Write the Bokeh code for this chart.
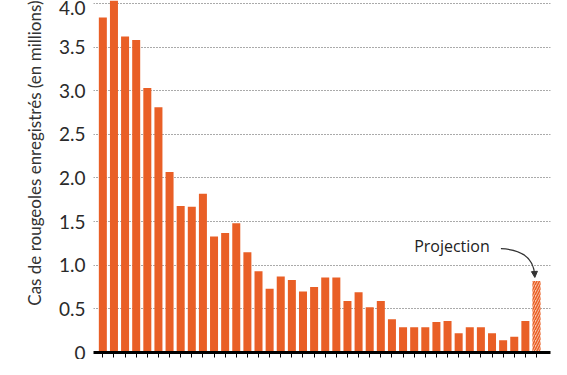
from bokeh.plotting import figure
from bokeh.models import (Range1d, FixedTicker, CustomJSTickFormatter, Label, Arrow,
                          NormalHead, Title)
from bokeh.embed import file_html
from bokeh.resources import INLINE

# ---- data ----
years = [1980, 1981, 1982, 1983, 1984, 1985, 1986, 1987, 1988, 1989,
         1990, 1991, 1992, 1993, 1994, 1995, 1996, 1997, 1998, 1999,
         2000, 2001, 2002, 2003, 2004, 2005, 2006, 2007, 2008, 2009,
         2010, 2011, 2012, 2013, 2014, 2015, 2016, 2017, 2018]
cases = [3.84, 4.10, 3.62, 3.58, 3.03, 2.81, 2.07, 1.68, 1.67, 1.82,
         1.33, 1.37, 1.48, 1.15, 0.93, 0.73, 0.87, 0.83, 0.70, 0.75,
         0.86, 0.86, 0.59, 0.69, 0.52, 0.59, 0.38, 0.29, 0.29, 0.29,
         0.35, 0.36, 0.22, 0.29, 0.29, 0.22, 0.14, 0.18, 0.36]
projection_year = [2019]
projection_value = [0.82]
y_ticks = [0, 0.5, 1.0, 1.5, 2.0, 2.5, 3.0, 3.5, 4.0]
y_tick_labels = ["0", "0.5", "1.0", "1.5", "2.0", "2.5", "3.0", "3.5", "4.0"]
y_title = "Cas de rougeoles enregistrés (en millions)"
note_text = "Projection"

ORANGE = "#e95f26"
first = years[0]
last = projection_year[0]

p = figure(width=551, height=359,
           x_range=Range1d(first - 0.84, last + 1.26),
           y_range=Range1d(0, 4.034),
           output_backend="svg", toolbar_location=None,
           min_border_left=93, min_border_right=1,
           min_border_top=0, min_border_bottom=7)
p.outline_line_color = None
p.background_fill_color = "white"
p.border_fill_color = "white"

p.vbar(x=years, top=cases, width=0.72, bottom=0,
       fill_color=ORANGE, line_color=None)
p.vbar(x=projection_year, top=projection_value, width=0.72, bottom=0,
       fill_color="#f9c3a8", line_color=None,
       hatch_pattern="/", hatch_color=ORANGE, hatch_scale=5, hatch_weight=1.5)

# y axis
p.yaxis.ticker = FixedTicker(ticks=y_ticks)
p.yaxis.formatter = CustomJSTickFormatter(
    args=dict(tvals=y_ticks, tlabs=y_tick_labels),
    code="""
    for (let i = 0; i < tvals.length; i++) {
        if (Math.abs(tvals[i] - tick) < 1e-9) return tlabs[i];
    }
    return tick.toFixed(1);
    """)
p.yaxis.axis_line_color = None
p.yaxis.major_tick_line_color = None
p.yaxis.minor_tick_line_color = None
p.yaxis.major_tick_out = 0
p.yaxis.major_tick_in = 0
p.yaxis.major_label_standoff = 8
p.yaxis.major_label_text_font = "Lato"
p.yaxis.major_label_text_font_size = "19px"
p.yaxis.major_label_text_color = "#2a2a2a"

# x axis
p.xaxis.ticker = FixedTicker(ticks=years + projection_year)
p.xaxis.formatter = CustomJSTickFormatter(code="return '';")
p.xaxis.axis_line_color = "black"
p.xaxis.axis_line_width = 3
p.xaxis.major_tick_line_color = "black"
p.xaxis.major_tick_line_width = 1
p.xaxis.major_tick_out = 5
p.xaxis.major_tick_in = 0
p.xaxis.minor_tick_line_color = None
p.xaxis.major_label_standoff = 0

# grid
p.xgrid.grid_line_color = None
p.ygrid.grid_line_color = "#555555"
p.ygrid.grid_line_dash = "1 2"
p.ygrid.grid_line_width = 1.2

# y title
p.add_layout(Title(text=y_title, align="right", text_font="Lato",
                   text_font_size="17px", text_font_style="normal",
                   text_color="#333333", standoff=22), "left")

# Projection annotation
px = projection_year[0]
pv = projection_value[0]
p.add_layout(Label(x=px - 4.2, y=pv + 0.40, text=note_text,
                   text_align="right", text_baseline="middle",
                   text_font="Open Sans", text_font_size="16px", text_color="#222222"))
p.bezier(x0=[px - 3.2], y0=[pv + 0.37], x1=[px - 0.15], y1=[pv + 0.05],
         cx0=[px - 1.2], cy0=[pv + 0.36], cx1=[px - 0.2], cy1=[pv + 0.25],
         line_color="#333333", line_width=1.3)
p.add_layout(Arrow(end=NormalHead(size=6, fill_color="#333333", line_color="#333333"),
                   x_start=px - 0.18, y_start=pv + 0.1, x_end=px - 0.15, y_end=pv + 0.04,
                   line_color="#333333", line_width=1.3))

open("out.html", "w").write(file_html(p, INLINE))
